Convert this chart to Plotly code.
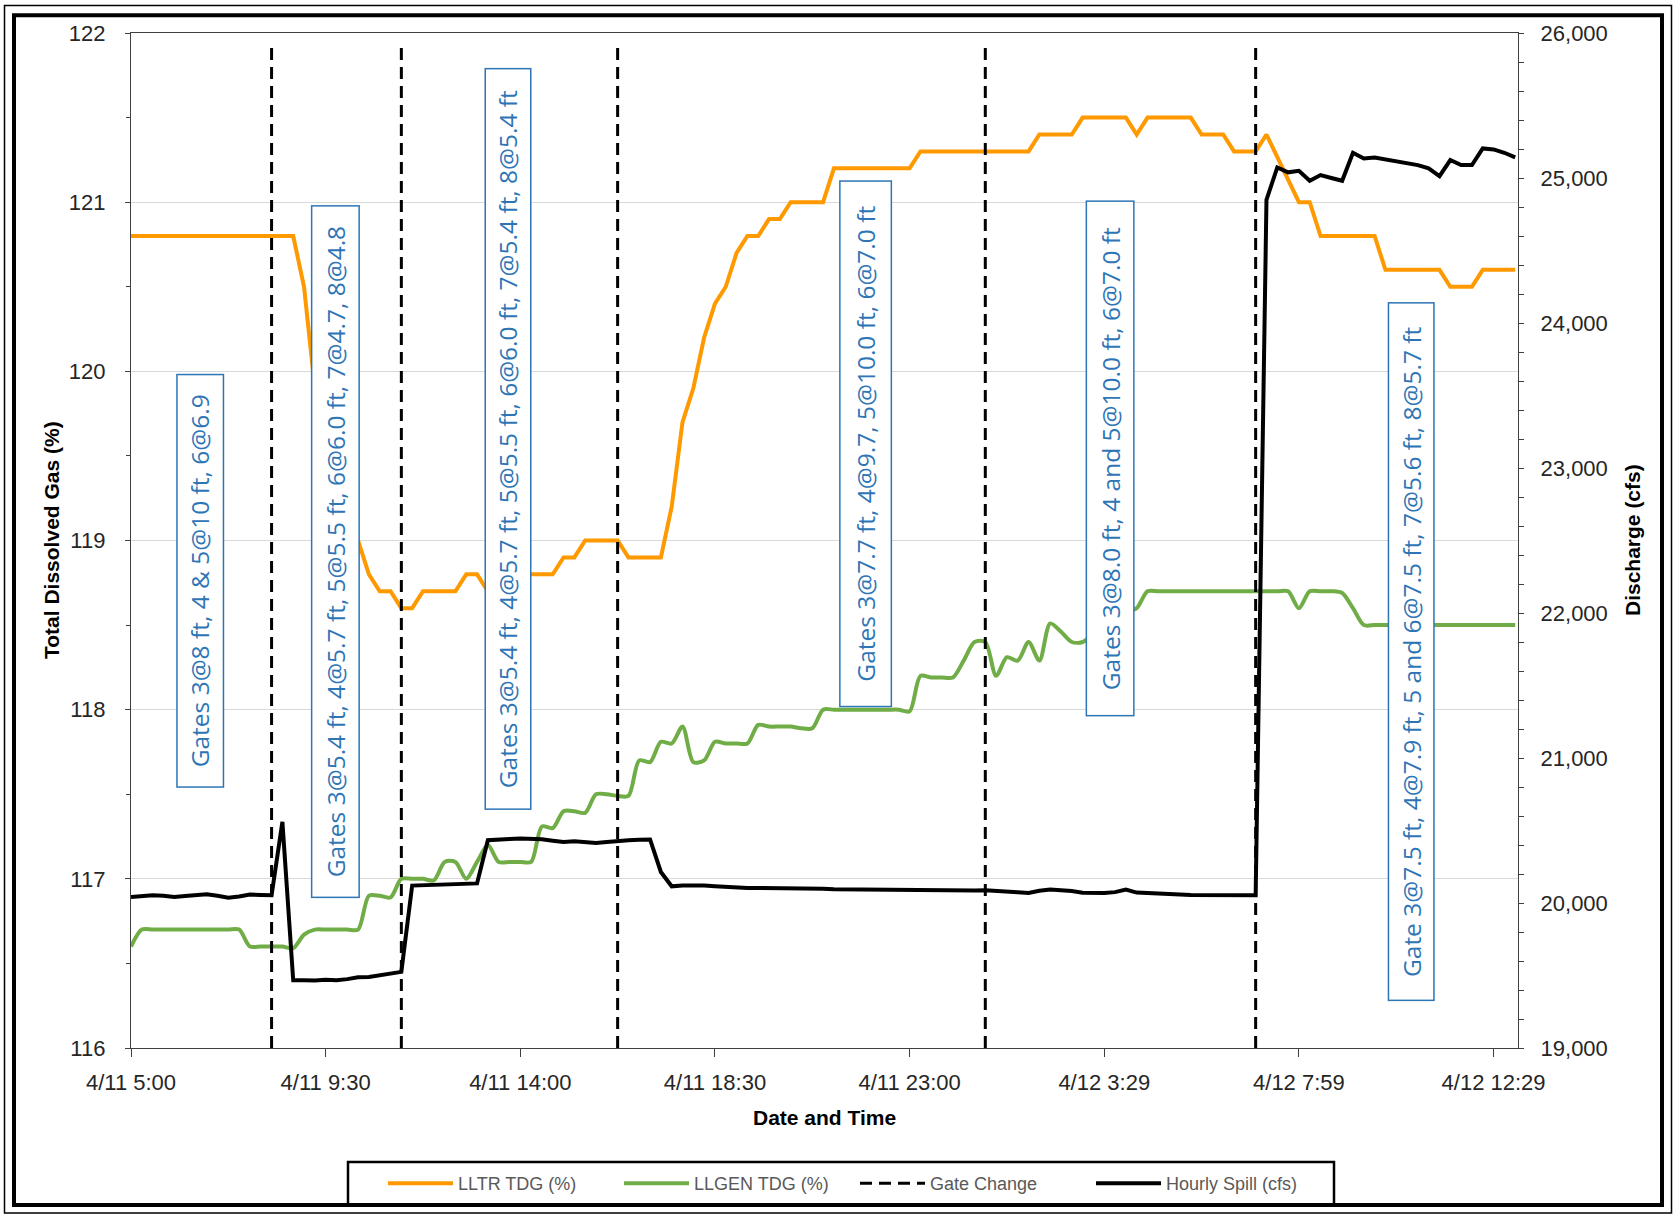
import pandas as pd
import plotly.graph_objects as go

# ---------------- data (15-minute readings, 4/11 05:00 -> 4/12 13:00) ----------------
times = pd.date_range("2021-04-11 05:00", "2021-04-12 13:00", freq="15min")

lltr_tdg = [
    120.8, 120.8, 120.8, 120.8, 120.8, 120.8, 120.8, 120.8, 120.8, 120.8,
    120.8, 120.8, 120.8, 120.8, 120.8, 120.8, 120.5, 119.9, 119.6, 119.3,
    119.1, 119.0, 118.8, 118.7, 118.7, 118.6, 118.6, 118.7, 118.7, 118.7,
    118.7, 118.8, 118.8, 118.7, 118.7, 118.8, 118.8, 118.8, 118.8, 118.8,
    118.9, 118.9, 119.0, 119.0, 119.0, 119.0, 118.9, 118.9, 118.9, 118.9,
    119.2, 119.7, 119.9, 120.2, 120.4, 120.5, 120.7, 120.8, 120.8, 120.9,
    120.9, 121.0, 121.0, 121.0, 121.0, 121.2, 121.2, 121.2, 121.2, 121.2,
    121.2, 121.2, 121.2, 121.3, 121.3, 121.3, 121.3, 121.3, 121.3, 121.3,
    121.3, 121.3, 121.3, 121.3, 121.4, 121.4, 121.4, 121.4, 121.5, 121.5,
    121.5, 121.5, 121.5, 121.4, 121.5, 121.5, 121.5, 121.5, 121.5, 121.4,
    121.4, 121.4, 121.3, 121.3, 121.3, 121.4, 121.27, 121.13, 121.0, 121.0,
    120.8, 120.8, 120.8, 120.8, 120.8, 120.8, 120.6, 120.6, 120.6, 120.6,
    120.6, 120.6, 120.5, 120.5, 120.5, 120.6, 120.6, 120.6, 120.6,
]

llgen_tdg = [
    116.60, 116.70, 116.70, 116.70, 116.70, 116.70, 116.70, 116.70, 116.70, 116.70,
    116.70, 116.60, 116.60, 116.60, 116.60, 116.59, 116.67, 116.70, 116.70, 116.70,
    116.70, 116.70, 116.90, 116.90, 116.89, 117.00, 117.00, 117.00, 116.99, 117.10,
    117.10, 117.00, 117.10, 117.20, 117.10, 117.10, 117.10, 117.10, 117.31, 117.30,
    117.40, 117.40, 117.39, 117.50, 117.50, 117.49, 117.49, 117.70, 117.69, 117.81,
    117.80, 117.90, 117.69, 117.70, 117.81, 117.80, 117.80, 117.80, 117.91, 117.90,
    117.90, 117.90, 117.89, 117.89, 118.00, 118.00, 118.00, 118.00, 118.00, 118.00,
    118.00, 118.00, 117.99, 118.20, 118.19, 118.19, 118.19, 118.29, 118.40, 118.40,
    118.20, 118.31, 118.29, 118.40, 118.29, 118.51, 118.46, 118.40, 118.40, 118.45,
    118.50, 118.55, 118.58, 118.60, 118.70, 118.70, 118.70, 118.70, 118.70, 118.70,
    118.70, 118.70, 118.70, 118.70, 118.70, 118.70, 118.70, 118.70, 118.60, 118.70,
    118.70, 118.70, 118.69, 118.60, 118.50, 118.50, 118.50, 118.50, 118.50, 118.50,
    118.50, 118.50, 118.50, 118.50, 118.50, 118.50, 118.50, 118.50, 118.50,
]

hourly_spill = [
    20042, 20050, 20053, 20050, 20042, 20048, 20055, 20060, 20050, 20037,
    20045, 20058, 20055, 20053, 20560, 19467, 19467, 19465, 19470, 19468,
    19475, 19488, 19490, 19500, 19515, 19525, 20120, 20122, 20124, 20126,
    20128, 20130, 20135, 20433, 20440, 20442, 20445, 20444, 20440, 20430,
    20421, 20425, 20420, 20414, 20420, 20428, 20432, 20436, 20438, 20214,
    20115, 20120, 20122, 20120, 20115, 20110, 20106, 20104, 20104, 20104,
    20102, 20102, 20100, 20100, 20098, 20095, 20094, 20094, 20093, 20093,
    20093, 20092, 20090, 20090, 20088, 20090, 20088, 20086, 20086, 20088,
    20081, 20078, 20074, 20069, 20085, 20093, 20088, 20082, 20071, 20069,
    20069, 20075, 20093, 20072, 20070, 20066, 20062, 20058, 20055, 20054,
    20053, 20055, 20054, 20053, 20053, 24850, 25073, 25039, 25050, 24981,
    25020, 25000, 24981, 25174, 25135, 25142, 25128, 25117, 25103, 25089,
    25066, 25013, 25124, 25089, 25089, 25204, 25197, 25174, 25142,
]

gate_change_times = [
    "2021-04-11 08:15", "2021-04-11 11:15", "2021-04-11 16:15",
    "2021-04-12 00:45", "2021-04-12 07:00",
]
gate_line_span = [116.0, 121.92]

gate_settings = [
    "Gates 3@8 ft, 4 & 5@10 ft, 6@6.9",
    "Gates 3@5.4 ft, 4@5.7 ft, 5@5.5 ft, 6@6.0 ft, 7@4.7, 8@4.8",
    "Gates 3@5.4 ft, 4@5.7 ft, 5@5.5 ft, 6@6.0 ft, 7@5.4 ft, 8@5.4 ft",
    "Gates 3@7.7 ft, 4@9.7, 5@10.0 ft, 6@7.0 ft",
    "Gates 3@8.0 ft, 4 and 5@10.0 ft, 6@7.0 ft",
    "Gate 3@7.5 ft, 4@7.9 ft, 5 and 6@7.5 ft, 7@5.6 ft, 8@5.7 ft",
]

tick_labels = ["4/11 5:00", "4/11 9:30", "4/11 14:00", "4/11 18:30",
               "4/11 23:00", "4/12 3:29", "4/12 7:59", "4/12 12:29"]

# ---------------- figure geometry (pixels) ----------------
W, H = 1676, 1214
PL, PR, PT, PB = 131, 1518, 33, 1048


def fx(px):
    return (px - PL) / (PR - PL)


def fy(py):
    return (PB - py) / (PB - PT)


TICK_FONT = dict(family="Liberation Sans, Arial, sans-serif", size=22, color="#262626")
TITLE_FONT = dict(family="Liberation Sans, Arial, sans-serif", size=21, color="#000000")
BLUE = "#2E75B6"
AX = "#404040"

fig = go.Figure()

fig.add_trace(go.Scatter(
    x=times, y=lltr_tdg, mode="lines", name="LLTR TDG (%)",
    line=dict(color="#FF9900", width=4),
))
fig.add_trace(go.Scatter(
    x=times, y=llgen_tdg, mode="lines", name="LLGEN TDG (%)",
    line=dict(color="#70AD47", width=4, shape="spline", smoothing=0.8),
))

gx, gy = [], []
for t in gate_change_times:
    gx += [t, t, None]
    gy += [gate_line_span[0], gate_line_span[1], None]
fig.add_trace(go.Scatter(
    x=gx, y=gy, mode="lines", name="Gate Change",
    line=dict(color="#000000", width=3, dash="12px,7px"),
))

fig.add_trace(go.Scatter(
    x=times, y=hourly_spill, mode="lines", name="Hourly Spill (cfs)",
    yaxis="y2", line=dict(color="#000000", width=4),
))

tickvals = list(pd.date_range(times[0], periods=len(tick_labels), freq="270min"))
x_range = [times[0], times[0] + pd.Timedelta(minutes=15 * 128.26)]

fig.update_layout(
    width=W, height=H, autosize=False,
    margin=dict(l=PL, r=W - PR, t=PT, b=H - PB),
    paper_bgcolor="white", plot_bgcolor="white",
    showlegend=True,
    xaxis=dict(
        type="date", range=x_range,
        tickmode="array", tickvals=tickvals, ticktext=tick_labels,
        ticks="outside", ticklen=8, tickwidth=1.3, tickcolor=AX,
        showline=True, linecolor=AX, linewidth=1.3, mirror=True,
        showgrid=False, zeroline=False, tickfont=TICK_FONT,
        ticklabelstandoff=6,
    ),
    yaxis=dict(
        range=[116, 122], tick0=116, dtick=1,
        ticks="outside", ticklen=5, tickwidth=1.3, tickcolor=AX,
        showline=True, linecolor=AX, linewidth=1.3,
        showgrid=True, gridcolor="#D9D9D9", gridwidth=1.3, zeroline=False,
        tickfont=TICK_FONT, ticklabelstandoff=15,
        minor=dict(dtick=0.5, ticks="outside", ticklen=4, tickcolor=AX, showgrid=False),
    ),
    yaxis2=dict(
        overlaying="y", side="right", range=[19000, 26000], tick0=19000, dtick=1000,
        tickformat=",", ticks="outside", ticklen=5, tickwidth=1.3, tickcolor=AX,
        showline=True, linecolor=AX, linewidth=1.3,
        showgrid=False, zeroline=False, tickfont=TICK_FONT, ticklabelstandoff=12,
        minor=dict(dtick=200, ticks="outside", ticklen=5, tickcolor=AX, showgrid=False),
    ),
    # inner halves of the cross-style major ticks
    xaxis2=dict(
        overlaying="x", anchor="y", side="bottom", type="date", range=x_range,
        tickmode="array", tickvals=tickvals, ticks="inside", ticklen=8,
        tickwidth=1.3, tickcolor=AX, showticklabels=False,
        showline=False, showgrid=False, zeroline=False,
    ),
    yaxis3=dict(
        overlaying="y", anchor="x", side="left", range=[116, 122], tick0=116, dtick=1,
        ticks="inside", ticklen=9, tickwidth=1.3, tickcolor=AX, showticklabels=False,
        showline=False, showgrid=False, zeroline=False,
    ),
    yaxis4=dict(
        overlaying="y", anchor="x", side="right", range=[19000, 26000], tick0=19000,
        dtick=1000, ticks="inside", ticklen=8, tickwidth=1.3, tickcolor=AX,
        showticklabels=False, showline=False, showgrid=False, zeroline=False,
    ),
    legend=dict(
        orientation="h", x=fx(383), xanchor="left", y=fy(1183.5), yanchor="middle",
        bgcolor="rgba(0,0,0,0)", borderwidth=0,
        font=dict(family="Liberation Sans, Arial, sans-serif", size=18, color="#595959"),
        entrywidthmode="pixels", entrywidth=156, itemwidth=65,
    ),
)

# axis titles
fig.add_annotation(text="<b>Total Dissolved Gas (%)</b>", xref="paper", yref="paper",
                   x=fx(51), y=fy(540), textangle=-90, showarrow=False, font=TITLE_FONT,
                   xanchor="center", yanchor="middle")
fig.add_annotation(text="<b>Discharge (cfs)</b>", xref="paper", yref="paper",
                   x=fx(1632), y=fy(540), textangle=-90, showarrow=False, font=TITLE_FONT,
                   xanchor="center", yanchor="middle")
fig.add_annotation(text="<b>Date and Time</b>", xref="paper", yref="paper",
                   x=fx(824), y=fy(1117), showarrow=False, font=TITLE_FONT,
                   xanchor="center", yanchor="middle")

# gate-setting call-out boxes (centre x, centre y, box width, box length in px)
boxes = [
    (200.5, 581.3, 47.6, 414.0),
    (335.5, 551.6, 49.0, 693.0),
    (507.7, 439.2, 46.7, 741.7),
    (865.7, 443.6, 53.3, 527.4),
    (1110.5, 458.9, 49.0, 515.7),
    (1411.4, 651.7, 47.3, 698.7),
]
for label, (cx, cy, bw, bl) in zip(gate_settings, boxes):
    fig.add_annotation(
        text=label, xref="paper", yref="paper", x=fx(cx), y=fy(cy),
        xanchor="center", yanchor="middle", textangle=-90, showarrow=False,
        width=bl - 3, height=bw - 3, align="center", valign="middle",
        bgcolor="white", bordercolor=BLUE, borderwidth=1.5, borderpad=0,
        font=dict(family="Open Sans, sans-serif", size=24.5, color=BLUE),
    )

# legend frame
fig.add_shape(type="rect", xref="paper", yref="paper",
              x0=fx(348), x1=fx(1334), y0=fy(1205), y1=fy(1162),
              line=dict(color="#000000", width=2.5), fillcolor="white", layer="below")

# double frame around the whole chart
fig.add_shape(type="rect", xref="paper", yref="paper",
              x0=fx(4.5), x1=fx(1671.5), y0=fy(1213), y1=fy(5.5),
              line=dict(color="#000000", width=1.5), fillcolor="rgba(0,0,0,0)", layer="above")
fig.add_shape(type="rect", xref="paper", yref="paper",
              x0=fx(14), x1=fx(1662), y0=fy(1205), y1=fy(15.3),
              line=dict(color="#000000", width=4), fillcolor="rgba(0,0,0,0)", layer="above")

fig.write_html("out.html")
